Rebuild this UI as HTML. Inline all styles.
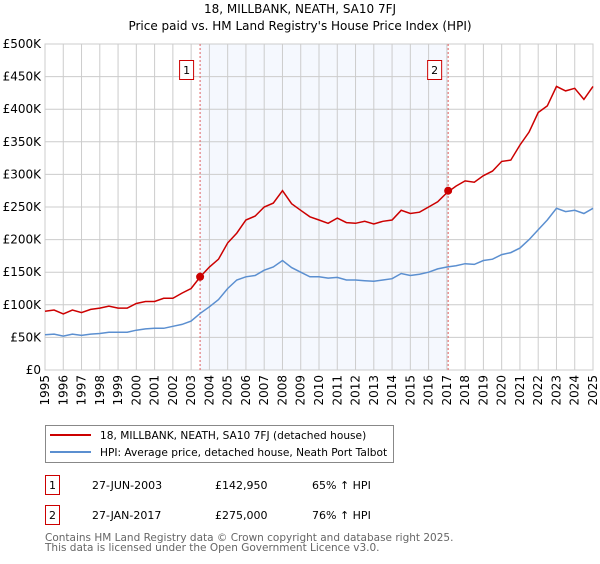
<!DOCTYPE html>
<html><head><meta charset="utf-8"><style>
body{margin:0;width:600px;height:560px;background:#fff;font-family:"DejaVu Sans","Liberation Sans",sans-serif;overflow:hidden}
svg text{font-family:"DejaVu Sans","Liberation Sans",sans-serif}
</style></head><body>
<svg id="chart" width="600" height="560" xmlns="http://www.w3.org/2000/svg">
<text x="300" y="13" text-anchor="middle" font-size="12">18, MILLBANK, NEATH, SA10 7FJ</text>
<text x="300" y="30" text-anchor="middle" font-size="12">Price paid vs. HM Land Registry's House Price Index (HPI)</text>
<g id="plot"></g>
<g>
<rect x="45.5" y="425.5" width="348" height="37" fill="#fff" stroke="#888"/>
<line x1="50" y1="435" x2="91" y2="435" stroke="#cc0000" stroke-width="2"/>
<text x="100" y="439" font-size="10.6">18, MILLBANK, NEATH, SA10 7FJ (detached house)</text>
<line x1="50" y1="452" x2="91" y2="452" stroke="#5b8fd0" stroke-width="2"/>
<text x="100" y="456" font-size="10.6">HPI: Average price, detached house, Neath Port Talbot</text>
</g>
<g font-size="11">
<rect x="45.5" y="475.5" width="14" height="19" fill="#fff" stroke="#cc0000"/>
<text x="52.5" y="489" text-anchor="middle">1</text>
<text x="92" y="489">27-JUN-2003</text><text x="215" y="489">£142,950</text><text x="312" y="489">65% ↑ HPI</text>
<rect x="45.5" y="505.5" width="14" height="19" fill="#fff" stroke="#cc0000"/>
<text x="52.5" y="519" text-anchor="middle">2</text>
<text x="92" y="519">27-JAN-2017</text><text x="215" y="519">£275,000</text><text x="312" y="519">76% ↑ HPI</text>
</g>
<text x="45" y="541" font-size="10.5" fill="#666">Contains HM Land Registry data © Crown copyright and database right 2025.</text>
<text x="45" y="551" font-size="10.5" fill="#666">This data is licensed under the Open Government Licence v3.0.</text>
</svg>
<script>
const years=[1995,1996,1997,1998,1999,2000,2001,2002,2003,2004,2005,2006,2007,2008,2009,2010,2011,2012,2013,2014,2015,2016,2017,2018,2019,2020,2021,2022,2023,2024,2025];
const yTicks=[0,50000,100000,150000,200000,250000,300000,350000,400000,450000,500000];
const yTickLabels=["£0","£50K","£100K","£150K","£200K","£250K","£300K","£350K","£400K","£450K","£500K"];
const seriesTimes=[1995,1995.5,1996,1996.5,1997,1997.5,1998,1998.5,1999,1999.5,2000,2000.5,2001,2001.5,2002,2002.5,2003,2003.5,2004,2004.5,2005,2005.5,2006,2006.5,2007,2007.5,2008,2008.5,2009,2009.5,2010,2010.5,2011,2011.5,2012,2012.5,2013,2013.5,2014,2014.5,2015,2015.5,2016,2016.5,2017,2017.5,2018,2018.5,2019,2019.5,2020,2020.5,2021,2021.5,2022,2022.5,2023,2023.5,2024,2024.5,2025];
const hpiValues=[54,55,52,55,53,55,56,58,58,58,61,63,64,64,67,70,75,87,97,108,125,138,143,145,153,158,168,157,150,143,143,141,142,138,138,137,136,138,140,148,145,147,150,155,158,160,163,162,168,170,177,180,187,200,215,230,248,243,245,240,248];
const priceValues=[90,92,86,92,88,93,95,98,95,95,102,105,105,110,110,118,125,143,158,170,195,210,230,236,250,256,275,255,245,235,230,225,233,226,225,228,224,228,230,245,240,242,250,258,272,282,290,288,298,305,320,322,345,365,395,405,435,428,432,415,435];
const saleTimes=[2003.49,2017.07];
const salePrices=[142950,275000];
const saleLabels=["1","2"];

const X0=45,X1=593,Y0=370,Y1=44;
const xs=t=>X0+(t-1995)/30*(X1-X0);
const ys=v=>Y0-v/500000*(Y0-Y1);
const NS="http://www.w3.org/2000/svg";
const g=document.getElementById('plot');
function mk(tag,attrs,parent){const e=document.createElementNS(NS,tag);for(const k in attrs)e.setAttribute(k,attrs[k]);(parent||g).appendChild(e);return e;}

const shade=mk('rect',{x:xs(saleTimes[0]),y:Y1,width:xs(saleTimes[1])-xs(saleTimes[0]),height:Y0-Y1,fill:'#eef3fd',opacity:0.6});



yTicks.forEach((v,i)=>{
 const l=mk('line',{x1:X0,x2:X1,y1:ys(v),y2:ys(v),stroke:'#cccccc','stroke-width':1});
 
 
 const t=mk('text',{x:X0-4,y:ys(v)+4,'text-anchor':'end','font-size':12});
 
 
 t.textContent=yTickLabels[i];
});
years.forEach(y=>{
 const l=mk('line',{x1:xs(y),x2:xs(y),y1:Y1,y2:Y0,stroke:'#cccccc','stroke-width':1});
 
 
 const t=mk('text',{transform:`translate(${xs(y)+4},${Y0+5}) rotate(-90)`,'text-anchor':'end','font-size':12});
 
 
 t.textContent=y;
});
mk('rect',{x:X0,y:Y1,width:X1-X0,height:Y0-Y1,fill:'none',stroke:'#cccccc'});

saleTimes.forEach((t,i)=>{
 const l=mk('line',{x1:xs(t),x2:xs(t),y1:Y1,y2:Y0,stroke:'#e06060','stroke-width':1,'stroke-dasharray':'2,2'});
 
 
 const b=mk('rect',{x:xs(t)-20.5,y:60.5,width:14,height:19,fill:'#fff',stroke:'#cc0000'});
 
 
 const tx=mk('text',{x:xs(t)-13.5,y:74,'text-anchor':'middle','font-size':11});
 
 
 tx.textContent=saleLabels[i];
});

function path(vals,color,name){
 const d=vals.map((v,i)=>(i?'L':'M')+xs(seriesTimes[i]).toFixed(1)+','+ys(v*1000).toFixed(1)).join('');
 const p=mk('path',{d:d,fill:'none',stroke:color,'stroke-width':1.5});
 
 
}
path(hpiValues,'#5b8fd0','hpi-line');
path(priceValues,'#cc0000','price-line');

saleTimes.forEach((t,i)=>{
 const c=mk('circle',{cx:xs(t),cy:ys(salePrices[i]),r:4,fill:'#cc0000'});
 
 
});
</script>
</body></html>
